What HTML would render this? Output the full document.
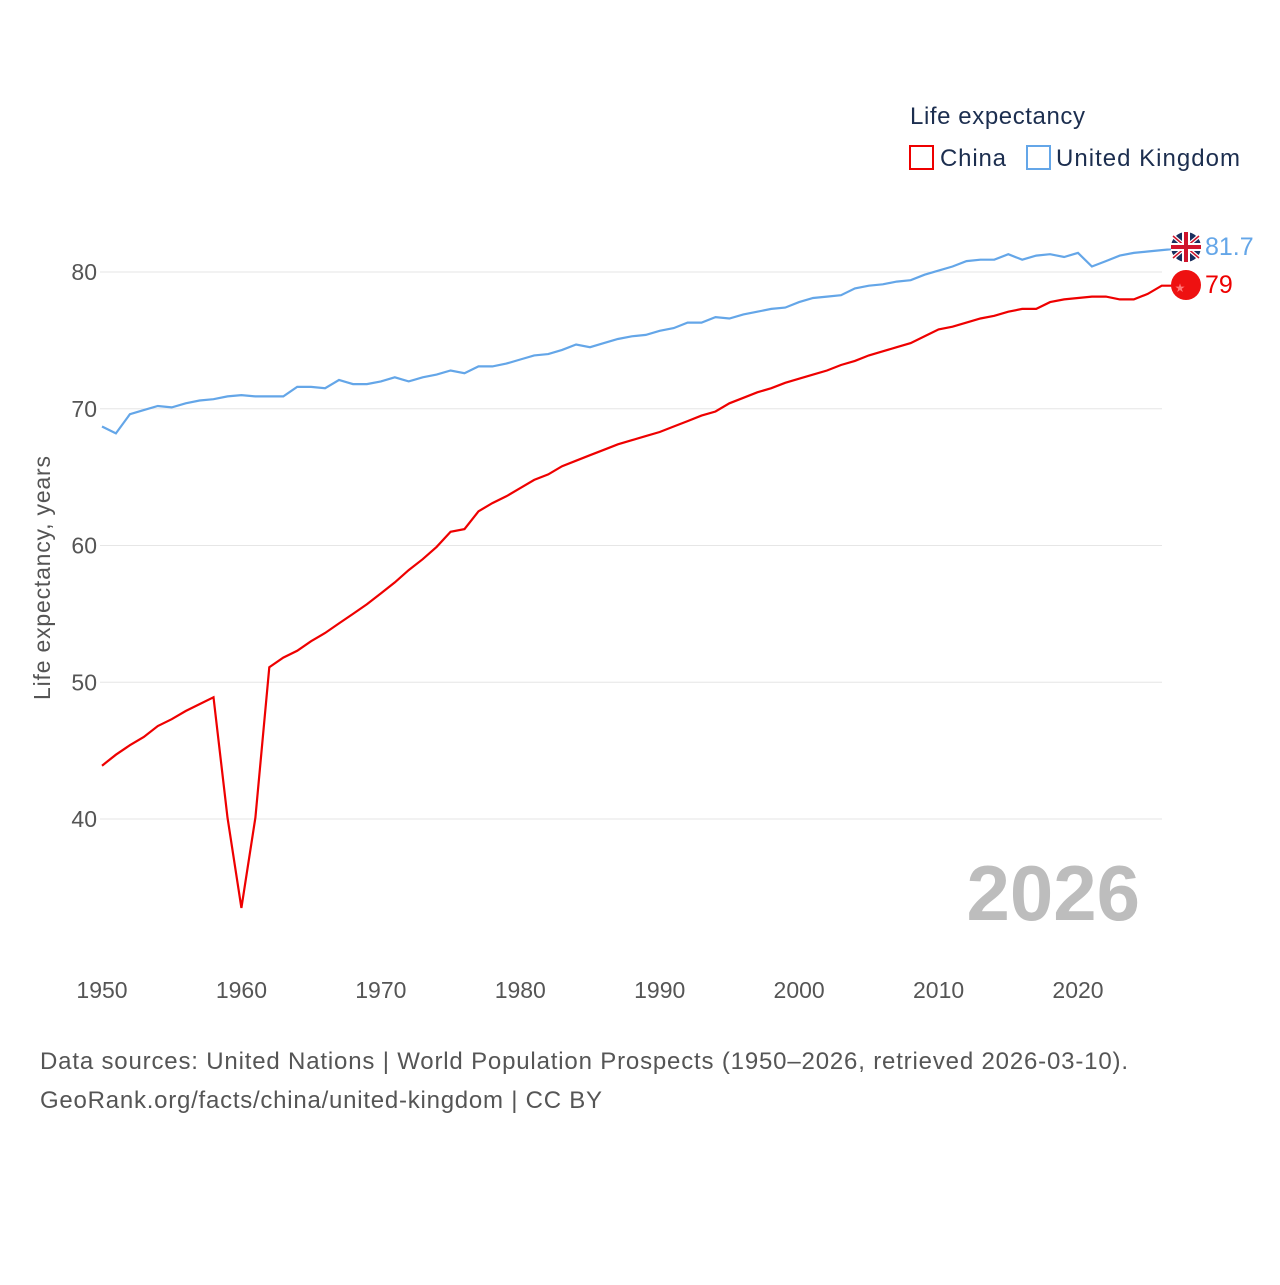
<!DOCTYPE html>
<html><head><meta charset="utf-8"><style>
body{margin:0;background:#fff;width:1280px;height:1280px;overflow:hidden;font-family:"Liberation Sans",sans-serif}
svg text{font-family:"Liberation Sans",sans-serif}
</style></head><body>
<svg id="chart" width="1280" height="1280" viewBox="0 0 1280 1280">
<g id="grid"></g>
<g id="yticks"></g>
<g id="xticks"></g>
<text transform="translate(50,578) rotate(-90)" text-anchor="middle" font-size="23" fill="#555" textLength="244">Life expectancy, years</text>
<text x="1140" y="920" text-anchor="end" font-size="78" font-weight="bold" fill="#bdbdbd">2026</text>
<g>
<text x="910" y="124" font-size="24" fill="#1c2e4f" textLength="175">Life expectancy</text>
<g><rect x="910" y="146" width="23" height="23" fill="none" stroke="#ee0000" stroke-width="2"/><text x="940" y="166" font-size="24" fill="#1c2e4f" textLength="66">China</text></g>
<g><rect x="1027" y="146" width="23" height="23" fill="none" stroke="#64a6e8" stroke-width="2"/><text x="1056" y="166" font-size="24" fill="#1c2e4f" textLength="184">United Kingdom</text></g>
</g>
<path id="uk-line" fill="none" stroke="#64a6e8" stroke-width="2.2"/>
<path id="cn-line" fill="none" stroke="#ee0000" stroke-width="2.2"/>
<g id="uk-end">
<circle cx="1186" cy="247" r="15" fill="#1a2f5e"/>
<path d="M1173 236L1199 258M1199 236L1173 258" stroke="#fff" stroke-width="4"/>
<path d="M1173 236L1199 258M1199 236L1173 258" stroke="#d0142c" stroke-width="1.5"/>
<rect x="1171" y="243" width="30" height="8" fill="#fff"/><rect x="1182" y="232" width="8" height="30" fill="#fff"/>
<rect x="1171" y="245" width="30" height="4" fill="#d0142c"/><rect x="1184" y="232" width="4" height="30" fill="#d0142c"/>
<text x="1205" y="255" font-size="25" fill="#64a6e8">81.7</text>
</g>
<g id="cn-end">
<circle cx="1186" cy="285" r="15" fill="#ee1111"/>
<text x="1180" y="292" font-size="12" fill="#f77" text-anchor="middle">★</text>
<text x="1205" y="293" font-size="25" fill="#ee0000">79</text>
</g>
<text x="40" y="1069" font-size="24" fill="#555" textLength="1088">Data sources: United Nations | World Population Prospects (1950–2026, retrieved 2026-03-10).</text>
<text x="40" y="1108" font-size="24" fill="#555" textLength="562">GeoRank.org/facts/china/united-kingdom | CC BY</text>
</svg>
<script>
const startYear = 1950;
const xTicks = [1950,1960,1970,1980,1990,2000,2010,2020];
const yTicks = [40,50,60,70,80];
const china = [43.9,44.7,45.4,46.0,46.8,47.3,47.9,48.4,48.9,40.1,33.5,40.1,51.1,51.8,52.3,53.0,53.6,54.3,55.0,55.7,56.5,57.3,58.2,59.0,59.9,61.0,61.2,62.5,63.1,63.6,64.2,64.8,65.2,65.8,66.2,66.6,67.0,67.4,67.7,68.0,68.3,68.7,69.1,69.5,69.8,70.4,70.8,71.2,71.5,71.9,72.2,72.5,72.8,73.2,73.5,73.9,74.2,74.5,74.8,75.3,75.8,76.0,76.3,76.6,76.8,77.1,77.3,77.3,77.8,78.0,78.1,78.2,78.2,78.0,78.0,78.4,79.0];
const uk = [68.7,68.2,69.6,69.9,70.2,70.1,70.4,70.6,70.7,70.9,71.0,70.9,70.9,70.9,71.6,71.6,71.5,72.1,71.8,71.8,72.0,72.3,72.0,72.3,72.5,72.8,72.6,73.1,73.1,73.3,73.6,73.9,74.0,74.3,74.7,74.5,74.8,75.1,75.3,75.4,75.7,75.9,76.3,76.3,76.7,76.6,76.9,77.1,77.3,77.4,77.8,78.1,78.2,78.3,78.8,79.0,79.1,79.3,79.4,79.8,80.1,80.4,80.8,80.9,80.9,81.3,80.9,81.2,81.3,81.1,81.4,80.4,80.8,81.2,81.4,81.5,81.6,81.7];
const X = yr => 102 + (yr-1950)*(1078-102)/70;
const Y = v => 272 + (80-v)*(819-272)/40;
const NS="http://www.w3.org/2000/svg";
const grid=document.getElementById('grid'), yt=document.getElementById('yticks'), xt=document.getElementById('xticks');
yTicks.forEach(v=>{
  const l=document.createElementNS(NS,'line');
  
  
  l.setAttribute('x1',100);l.setAttribute('x2',1162);l.setAttribute('y1',Y(v));l.setAttribute('y2',Y(v));
  l.setAttribute('stroke','#e6e6e6');l.setAttribute('stroke-width','1');grid.appendChild(l);
  const t=document.createElementNS(NS,'text');
  
  
  t.setAttribute('x',97);t.setAttribute('y',Y(v)+8);t.setAttribute('text-anchor','end');
  t.setAttribute('font-size','23');t.setAttribute('fill','#555');t.textContent=v;yt.appendChild(t);
});
xTicks.forEach(v=>{
  const t=document.createElementNS(NS,'text');
  
  
  t.setAttribute('x',X(v));t.setAttribute('y',998);t.setAttribute('text-anchor','middle');
  t.setAttribute('font-size','23');t.setAttribute('fill','#555');t.textContent=v;xt.appendChild(t);
});
const path = arr => arr.map((v,i)=>(i?'L':'M')+X(startYear+i).toFixed(1)+' '+Y(v).toFixed(1)).join('');
document.getElementById('uk-line').setAttribute('d', path(uk)+'L1172 '+Y(uk[uk.length-1]).toFixed(1));
document.getElementById('cn-line').setAttribute('d', path(china)+'L1172 '+Y(china[china.length-1]).toFixed(1));
</script>
</body></html>
